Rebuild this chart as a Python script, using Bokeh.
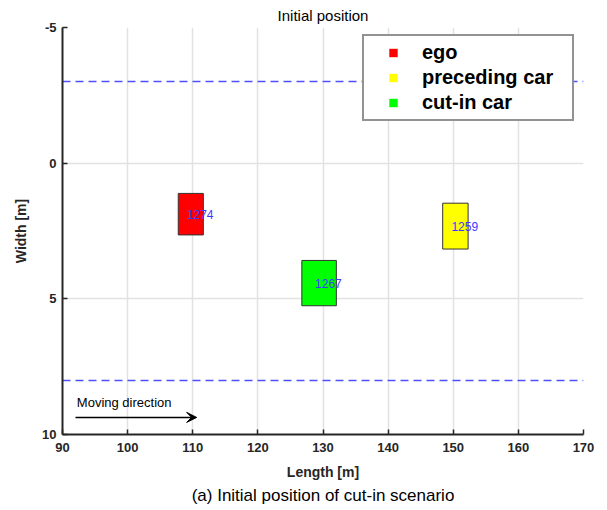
from bokeh.plotting import figure
from bokeh.models import (Range1d, FixedTicker, ColumnDataSource, Legend, LegendItem,
                          Arrow, VeeHead, Title, Label)
from bokeh.embed import file_html
from bokeh.resources import INLINE

# Vehicles at the start of the cut-in scenario
car_names = ["ego", "preceding car", "cut-in car"]
car_ids = ["1274", "1259", "1267"]
car_x = [109.7, 150.33, 129.4]      # longitudinal centre [m]
car_y = [1.88, 2.32, 4.42]          # lateral centre [m]
car_len = [3.85, 3.9, 5.3]          # extent along the road [m]
car_wid = [1.53, 1.69, 1.67]        # extent across the road [m]
car_colors = ["#ff0000", "#ffff00", "#00ff00"]

# Lane boundaries [m]
lane_bounds = [-3, 8]

x_ticks = [90, 100, 110, 120, 130, 140, 150, 160, 170]
y_ticks = [-5, 0, 5, 10]

FONT = "Liberation Sans"
TXT = "#262626"

p = figure(width=607, height=510, output_backend="svg", toolbar_location=None,
           x_range=Range1d(90, 170), y_range=Range1d(10, -5),
           min_border_left=62, min_border_right=24, min_border_top=0,
           min_border_bottom=76, background_fill_color="white",
           border_fill_color="white", outline_line_color=None)

p.title.text = "Initial position"
p.title.align = "center"
p.title.text_font = FONT
p.title.text_font_size = "15px"
p.title.text_font_style = "normal"
p.title.text_color = "#000000"
p.title.standoff = 8

for ax in (p.xaxis[0], p.yaxis[0]):
    ax.axis_line_color = TXT
    ax.axis_line_width = 2
    ax.major_tick_line_color = TXT
    ax.major_tick_line_width = 1.5
    ax.major_tick_in = 5
    ax.major_tick_out = 0
    ax.minor_tick_line_color = None
    ax.major_label_text_font = FONT
    ax.major_label_text_font_size = "13px"
    ax.major_label_text_font_style = "bold"
    ax.major_label_text_color = TXT
    ax.axis_label_text_font = FONT
    ax.axis_label_text_font_size = "14px"
    ax.axis_label_text_font_style = "bold"
    ax.axis_label_text_color = TXT

p.xaxis.ticker = FixedTicker(ticks=x_ticks)
p.yaxis.ticker = FixedTicker(ticks=y_ticks)
p.yaxis.major_label_overrides = {-5: "-5"}
p.xaxis.axis_label = "Length [m]"
p.yaxis.axis_label = "Width [m]"
p.xaxis.major_label_standoff = 8
p.yaxis.major_label_standoff = 6
p.xaxis.axis_label_standoff = 9
p.yaxis.axis_label_standoff = 10

p.xgrid.grid_line_color = "#e2e2e2"
p.ygrid.grid_line_color = "#e2e2e2"
p.xgrid.grid_line_width = 1.5
p.ygrid.grid_line_width = 1.5

# Lane boundaries
p.hspan(y=lane_bounds, line_color="#4f4fff", line_width=1.5, line_dash="8 5")

# Vehicle boxes
src = ColumnDataSource(dict(
    left=[x - l / 2 for x, l in zip(car_x, car_len)],
    right=[x + l / 2 for x, l in zip(car_x, car_len)],
    top=[y - w / 2 for y, w in zip(car_y, car_wid)],
    bottom=[y + w / 2 for y, w in zip(car_y, car_wid)],
    color=car_colors, x=car_x, y=car_y, ids=car_ids,
))
p.quad(left="left", right="right", top="top", bottom="bottom", source=src,
       fill_color="color", line_color="#333333", line_width=1)
p.text(x="x", y="y", text="ids", source=src, text_color="#3b3bff",
       text_font_size="12px", text_align="left", text_baseline="middle",
       x_offset=-4, text_font={"value": FONT})

# Legend with small square markers (marker-only renderers with no visible point)
items = []
for name, col in zip(car_names, car_colors):
    r = p.scatter(x=[float("nan")], y=[float("nan")], marker="square",
                  fill_color=col, line_color=None)
    items.append(LegendItem(label=name, renderers=[r], index=0))
legend = Legend(items=items, location=(300, 313), padding=4, margin=0, spacing=0,
                glyph_width=50, glyph_height=21, label_height=25, label_width=146,
                label_standoff=4, label_text_font=FONT, label_text_font_size="20px",
                label_text_font_style="bold", label_text_color="#000000",
                border_line_color=TXT, border_line_width=2,
                background_fill_color="white", background_fill_alpha=1.0)
p.add_layout(legend, "center")

# Direction of travel
p.add_layout(Arrow(end=VeeHead(size=10, fill_color="black", line_color="black"),
                   x_start=92.0, y_start=9.37, x_end=110.6, y_end=9.37,
                   line_color="black", line_width=1.5))
p.add_layout(Label(x=92.2, y=8.82, text="Moving direction", text_font=FONT,
                   text_font_size="13px", text_baseline="middle", text_color="#000000"))

caption = Title(text="(a) Initial position of cut-in scenario", align="center",
                text_font=FONT, text_font_size="17px", text_font_style="normal",
                text_color="#000000", standoff=2)
p.add_layout(caption, "below")

open("out.html", "w").write(file_html(p, INLINE))
